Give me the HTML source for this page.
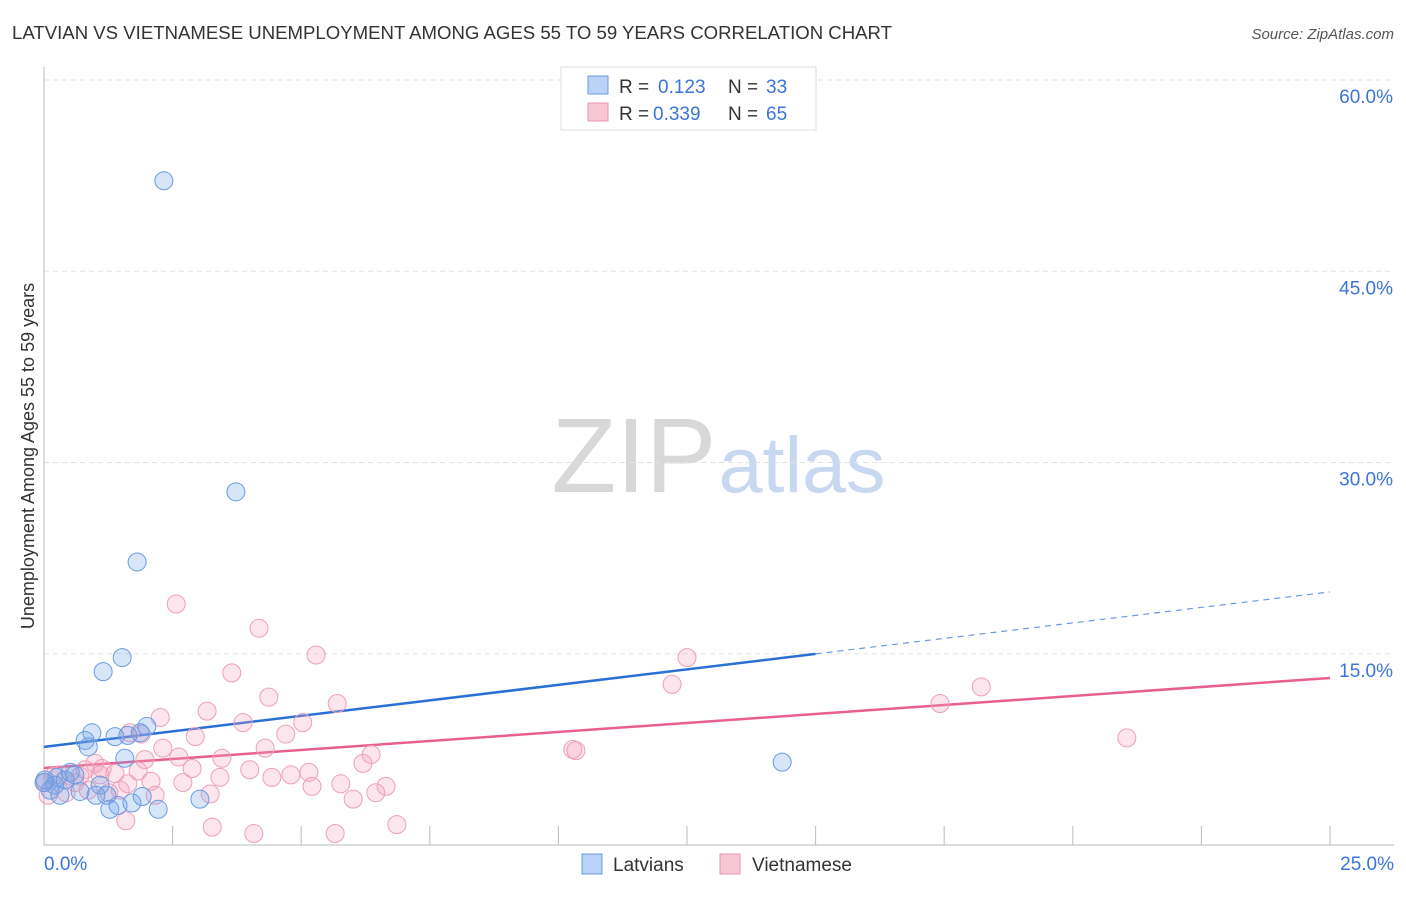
<!DOCTYPE html>
<html><head><meta charset="utf-8"><style>
body{margin:0;background:#fff;font-family:"Liberation Sans",sans-serif;}
svg text{font-family:"Liberation Sans",sans-serif;}
</style></head><body>
<svg id="chart" width="1406" height="892" xmlns="http://www.w3.org/2000/svg">
<text x="12" y="39" font-size="18.6" fill="#333">LATVIAN VS VIETNAMESE UNEMPLOYMENT AMONG AGES 55 TO 59 YEARS CORRELATION CHART</text>
<text x="1394" y="39" font-size="15" fill="#555" font-style="italic" text-anchor="end">Source: ZipAtlas.com</text>
<text transform="translate(34,456) rotate(-90)" font-size="18" fill="#333" text-anchor="middle">Unemployment Among Ages 55 to 59 years</text>
<g>
<text x="634" y="492" font-size="106" fill="#d8d8d8" font-family="Liberation Serif,serif" text-anchor="middle">ZIP</text>
<text x="802" y="492" font-size="79" fill="#c8d8f0" text-anchor="middle">atlas</text>
</g>
<g id="grid"></g><g id="axes"></g><g id="trend"></g><g id="pts"></g>
<g>
<rect x="561" y="67" width="255" height="63" fill="#fff" stroke="#ddd"/>
<rect x="588" y="76" width="20" height="18" fill="#b9d2f5" stroke="#6b9be0"/>
<rect x="588" y="103" width="20" height="18" fill="#f9c6d6" stroke="#ea93b0"/>
<text x="619" y="93" font-size="19" fill="#333">R =</text>
<text x="658" y="93" font-size="19" fill="#3a75d8">0.123</text>
<text x="728" y="93" font-size="19" fill="#333">N =</text>
<text x="766" y="93" font-size="19" fill="#3a75d8">33</text>
<text x="619" y="120" font-size="19" fill="#333">R =</text>
<text x="653" y="120" font-size="19" fill="#3a75d8">0.339</text>
<text x="728" y="120" font-size="19" fill="#333">N =</text>
<text x="766" y="120" font-size="19" fill="#3a75d8">65</text>
</g>
<g>
<rect x="582" y="854" width="20" height="20" fill="#b9d2f5" stroke="#6b9be0"/>
<text x="613" y="871" font-size="19" fill="#333">Latvians</text>
<rect x="720" y="854" width="20" height="20" fill="#f9c6d6" stroke="#ea93b0"/>
<text x="752" y="871" font-size="19" fill="#333">Vietnamese</text>
</g>
</svg>
<script>
const yTicks=[15,30,45,60];
const xTickLabels=["0.0%","25.0%"];
const latX=[2.33,3.73,1.81,1.52,1.15,0.93,0.80,0.86,1.38,1.63,2.00,1.87,1.57,0.02,0.12,0.31,0.25,0.41,0.51,0.60,0.70,1.09,1.22,1.28,1.44,1.71,1.91,2.22,3.03,14.35,1.01,0.0,0.21];
const latY=[52.1,27.7,22.2,14.7,13.6,8.8,8.2,7.7,8.5,8.6,9.3,8.8,6.8,5.1,4.3,3.9,5.3,5.1,5.7,5.5,4.2,4.7,3.9,2.8,3.1,3.3,3.8,2.8,3.6,6.5,3.9,4.9,4.7];
const vieX=[2.57,4.18,5.29,3.65,4.37,5.70,3.17,2.26,3.87,5.03,1.67,1.89,2.94,4.70,2.31,4.30,6.36,3.46,2.62,0.99,1.38,1.83,2.88,6.20,1.13,3.42,4.43,4.80,5.15,2.08,2.70,5.77,6.65,5.21,1.63,2.16,3.23,0.19,0.60,0.86,0.43,1.26,6.01,6.45,1.59,3.27,4.08,5.66,6.86,10.28,10.34,12.21,12.50,17.42,18.22,21.05,0.31,0.70,1.09,0.02,0.08,0.80,1.48,1.96,4.00];
const vieY=[18.9,17.0,14.9,13.5,11.6,11.1,10.5,10.0,9.6,9.6,8.8,8.7,8.5,8.7,7.6,7.6,7.1,6.8,6.9,6.4,5.6,5.8,6.0,6.4,6.0,5.3,5.3,5.5,5.7,5.0,4.9,4.8,4.6,4.6,4.8,3.9,4.0,5.4,4.9,4.3,4.1,4.1,3.6,4.1,1.9,1.4,0.9,0.9,1.6,7.5,7.4,12.6,14.7,11.1,12.4,8.4,5.5,5.4,5.5,4.9,3.9,5.9,4.3,6.7,5.9];
const latTrend=[7.7,19.85];
const vieTrend=[6.04,13.1];
const NS="http://www.w3.org/2000/svg";
const X=v=>44+v*51.44, Y=v=>845-v*12.75;
function mk(t,a,p){const e=document.createElementNS(NS,t);for(const k in a)e.setAttribute(k,a[k]);p.appendChild(e);return e;}
const grid=document.getElementById('grid'),axes=document.getElementById('axes');
yTicks.forEach(t=>{
 const l=mk('line',{x1:44,x2:1394,y1:Y(t),y2:Y(t),stroke:'#e2e2e2','stroke-dasharray':'5,4'},grid);
 
 
 const tx=mk('text',{x:1393,y:Y(t)+23,'font-size':19,fill:'#3a75d8','text-anchor':'end'},axes);
 tx.textContent=t.toFixed(1)+'%';
 
 
});
mk('line',{x1:44,x2:44,y1:67,y2:845,stroke:'#bbb'},axes);
mk('line',{x1:44,x2:1394,y1:845,y2:845,stroke:'#bbb'},axes);
for(let i=1;i<=10;i++){const v=i*2.5;mk('line',{x1:X(v),x2:X(v),y1:826,y2:845,stroke:'#bbb'},axes);}
[[0,'start',44],[25,'end',1394]].forEach((d,i)=>{
 const tx=mk('text',{x:d[2],y:870,'font-size':19,fill:'#3a75d8','text-anchor':d[1]},axes);
 tx.textContent=xTickLabels[i];
 
 
});
const tr=document.getElementById('trend');
const b1=mk('line',{x1:X(0),y1:Y(latTrend[0]),x2:X(15),y2:Y(latTrend[0]+(latTrend[1]-latTrend[0])*15/25),stroke:'#2a6fd6','stroke-width':2.5},tr);


const b2=mk('line',{x1:X(15),y1:Y(latTrend[0]+(latTrend[1]-latTrend[0])*15/25),x2:X(25),y2:Y(latTrend[1]),stroke:'#6b9be0','stroke-width':1.2,'stroke-dasharray':'6,5'},tr);


const p1=mk('line',{x1:X(0),y1:Y(vieTrend[0]),x2:X(25),y2:Y(vieTrend[1]),stroke:'#e8608a','stroke-width':2.5},tr);


const pts=document.getElementById('pts');
vieX.forEach((x,i)=>{
 const c=mk('circle',{cx:X(x),cy:Y(vieY[i]),r:9,fill:'rgba(245,160,190,0.28)',stroke:'#eda0ba','stroke-width':1},pts);
 
 
});
latX.forEach((x,i)=>{
 const c=mk('circle',{cx:X(x),cy:Y(latY[i]),r:9,fill:'rgba(110,160,235,0.28)',stroke:'#6b9be0','stroke-width':1},pts);
 
 
});
</script>
</body></html>
